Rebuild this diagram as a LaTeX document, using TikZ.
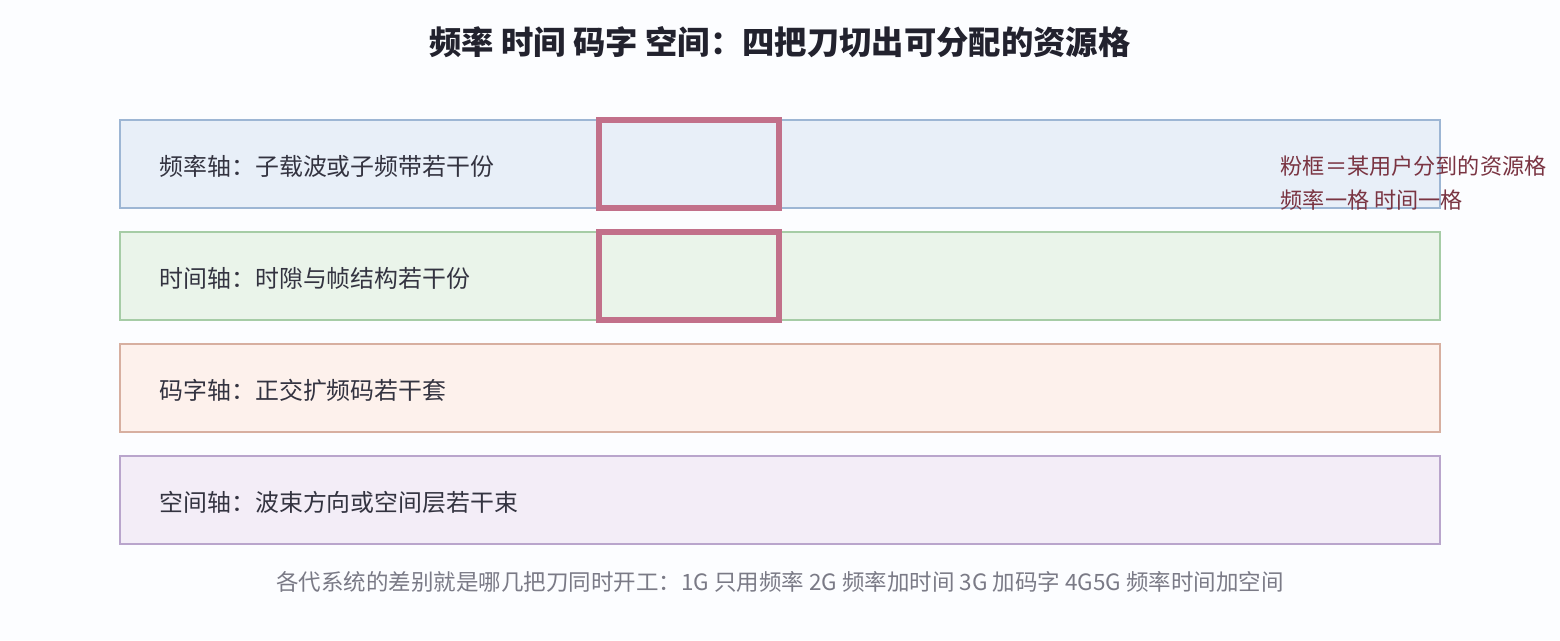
\documentclass[tikz,border=0pt]{standalone}
\usepackage{fontspec}
\newfontfamily\cjk{Noto Sans CJK SC}
\usetikzlibrary{calc,positioning}

\definecolor{bgcol}{HTML}{FCFDFF}
\definecolor{titlecol}{HTML}{22222E}
\definecolor{labelcol}{HTML}{333340}
\definecolor{freqfill}{HTML}{E8EFF8}
\definecolor{freqline}{HTML}{9DB6D4}
\definecolor{timefill}{HTML}{EAF4EA}
\definecolor{timeline}{HTML}{A6CCA6}
\definecolor{codefill}{HTML}{FDF1EC}
\definecolor{codeline}{HTML}{D7AFA0}
\definecolor{spacefill}{HTML}{F3EDF7}
\definecolor{spaceline}{HTML}{B9A5CC}
\definecolor{pinkbox}{HTML}{C2708A}
\definecolor{notecol}{HTML}{7A3442}
\definecolor{footcol}{HTML}{7A7A86}

\begin{document}
\begin{tikzpicture}[
    bar/.style  = {draw, line width=0.6pt, minimum width=13.2cm, minimum height=0.88cm, inner sep=0pt},
    lbl/.style  = {anchor=west, inner sep=0pt, text=labelcol, font=\cjk\fontsize{6.8pt}{8pt}\selectfont},
    cell/.style = {draw=pinkbox, line width=1.5pt, minimum width=1.8cm, minimum height=0.88cm, inner sep=0pt},
    note/.style = {anchor=west, text=notecol, inner sep=0pt, font=\cjk\fontsize{6.3pt}{7pt}\selectfont},
    node distance = 0.22cm]

    \fill[bgcol] (0,0) rectangle (15.6,-6.4);
    \useasboundingbox (0,0) rectangle (15.6,-6.4);

    \node[text=titlecol, font=\cjk\bfseries\fontsize{9.2pt}{10pt}\selectfont] (title) at (7.8,-0.42) {频率 时间 码字 空间：四把刀切出可分配的资源格};

    \node[bar, fill=freqfill, draw=freqline]             (freq)  at (7.8,-1.64) {};
    \node[bar, fill=timefill, draw=timeline, below = of freq]  (time)  {};
    \node[bar, fill=codefill, draw=codeline, below = of time]  (code)  {};
    \node[bar, fill=spacefill, draw=spaceline, below = of code] (space) {};

    \node[lbl] (freqlbl)  at ($(freq.west)+(0.4,-0.025)$)  {频率轴：子载波或子频带若干份};
    \node[lbl] (timelbl)  at ($(time.west)+(0.4,-0.025)$)  {时间轴：时隙与帧结构若干份};
    \node[lbl] (codelbl)  at ($(code.west)+(0.4,-0.025)$)  {码字轴：正交扩频码若干套};
    \node[lbl] (spacelbl) at ($(space.west)+(0.4,-0.025)$) {空间轴：波束方向或空间层若干束};

    \node[cell] (freqcell) at ($(freq.west)+(5.7,0)$) {};
    \node[cell] (timecell) at ($(time.west)+(5.7,0)$) {};

    \node[note] (note)  at (12.8,-1.66) {粉框＝某用户分到的资源格};
    \node[note] (note2) at (12.8,-2.00) {频率一格 时间一格};

    \node[text=footcol, font=\cjk\fontsize{6.4pt}{7pt}\selectfont] (foot) at (7.8,-5.82) {各代系统的差别就是哪几把刀同时开工：1G 只用频率 2G 频率加时间 3G 加码字 4G5G 频率时间加空间};

\end{tikzpicture}
\end{document}
